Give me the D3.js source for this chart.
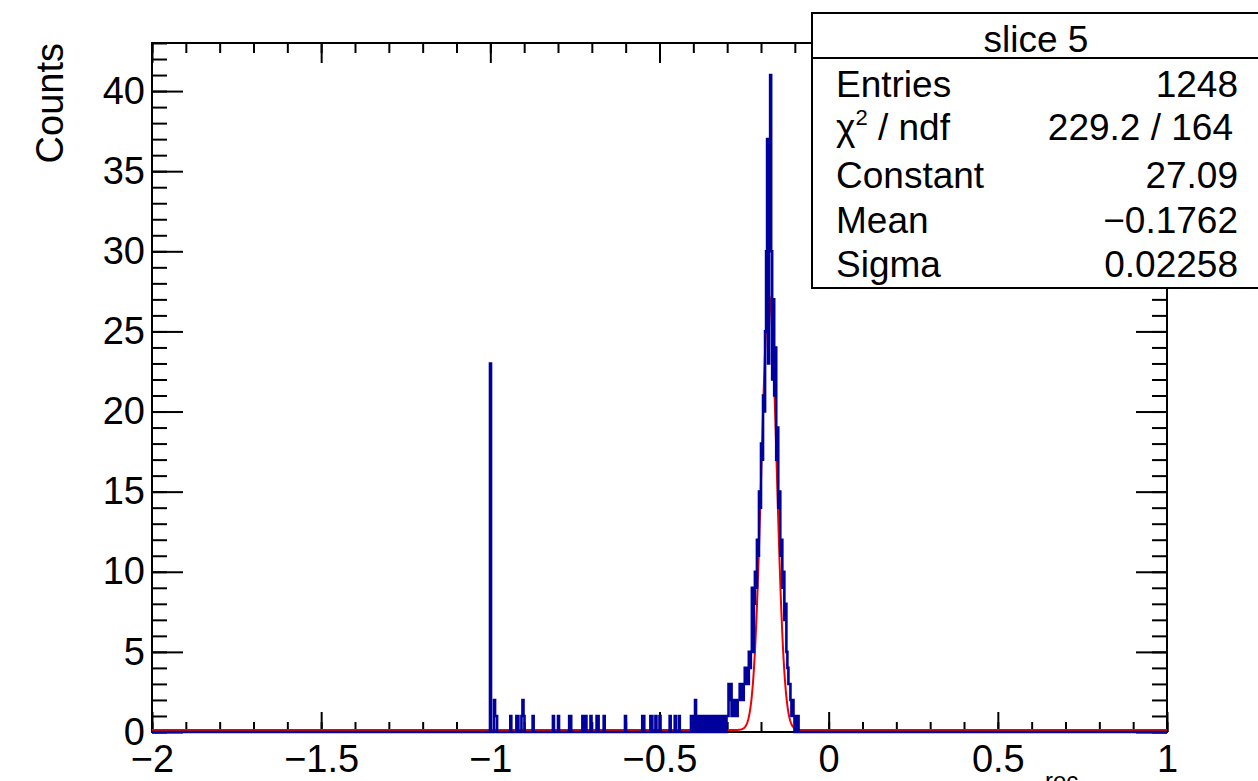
<!DOCTYPE html>
<html><head><meta charset="utf-8">
<script src="https://cdn.jsdelivr.net/npm/d3@7"></script>
<style>
body{margin:0;background:#fff;}
svg{display:block;}
text{font-family:"Liberation Sans",Arial,Helvetica,sans-serif;fill:#000;}
</style>
</head><body>
<svg id="c" width="1258" height="781"></svg>
<script>
// ---------- data ----------
const xMin = -2, xMax = 1, nBins = 1000;
const yMax = 43;
const xMajorTicks = [-2, -1.5, -1, -0.5, 0, 0.5, 1];
const xTickLabels = ["\u22122", "\u22121.5", "\u22121", "\u22120.5", "0", "0.5", "1"];
const yMajorTicks = [0, 5, 10, 15, 20, 25, 30, 35, 40];
const yTickLabels = ["0", "5", "10", "15", "20", "25", "30", "35", "40"];
const yTitle = "Counts";

// isolated bins in the low tail (bin centres and counts)
const tailCenters = [-0.9995, -0.9875, -0.9845, -0.9815, -0.9395, -0.9215, -0.9185, -0.9065, -0.9035, -0.9005,
  -0.8735, -0.8135, -0.7985, -0.7655, -0.7625, -0.7265, -0.7175, -0.7025, -0.6845, -0.6815, -0.6635,
  -0.6005, -0.5495, -0.5465, -0.5255, -0.5225, -0.5105, -0.4985, -0.4685, -0.4535, -0.4415,
  -0.4055, -0.4025, -0.3935];
const tailCounts = [23, 2, 1, 1, 1, 1, 1, 1, 2, 1,
  1, 1, 1, 1, 1, 1, 1, 1, 1, 1, 1,
  1, 1, 1, 1, 1, 1, 1, 1, 1, 1,
  1, 1, 2];

// contiguous bins from coreLowEdge onward
const coreLowEdge = -0.389;
const coreCounts = [
  1,0,1,0,1,1,0,1,0,1,0,1,1,0,1,0,1,0,1,0,1,1,0,1,0,1,0,1,0,1,1,
  3,2,3,1,2,2,1,2,1,2,2,3,2,3,2,3,4,
  3,4,3,5,4,5,9,5,8,10,9,12,11,15,14,18,17,21,20,25,30,37,23,37,41,
  30,22,27,21,24,17,19,14,15,11,12,9,10,7,8,5,4,3,3,2,1,2,1,0,1,0,1
];

// Gaussian fit parameters (from the stats box)
const fitConstant = 27.09, fitMean = -0.1762, fitSigma = 0.02258;

const statsTitle = "slice 5";
const statsNames = ["Entries", "chi2", "Constant", "Mean", "Sigma"];
const statsValues = ["1248", "229.2 / 164", "27.09", "\u22120.1762", "0.02258"];
const xTitleFragment = "rec";

// ---------- build ----------
const svg = d3.select("#c");
const frame = {left: 152, right: 1167, top: 43, bottom: 732};
const x = d3.scaleLinear().domain([xMin, xMax]).range([frame.left, frame.right]);
const y = d3.scaleLinear().domain([0, yMax]).range([frame.bottom, frame.top]);

const binW = (xMax - xMin) / nBins;
const counts = new Array(nBins).fill(0);
tailCenters.forEach((c, k) => { counts[Math.floor((c - xMin) / binW)] = tailCounts[k]; });
const coreStart = Math.round((coreLowEdge - xMin) / binW);
coreCounts.forEach((c, k) => { counts[coreStart + k] = c; });

const histPts = [];
counts.forEach((c, i) => {
  const x0 = xMin + i * binW;
  histPts.push([x0, c], [x0 + binW, c]);
});
const fitPts = d3.range(xMin, xMax + 1e-9, 0.001).map(v => [v, fitConstant * Math.exp(-0.5 * Math.pow((v - fitMean) / fitSigma, 2))]);

const line = d3.line().x(d => x(d[0])).y(d => y(d[1]));

// frame
svg.append("rect").attr("x", frame.left).attr("y", frame.top)
  .attr("width", frame.right - frame.left).attr("height", frame.bottom - frame.top)
  .attr("fill", "none").attr("stroke", "#000").attr("stroke-width", 2);

// axes helpers
function styleAxis(g) {
  g.select(".domain").remove();
  g.selectAll("line").attr("stroke", "#000").attr("stroke-width", 2);
  g.attr("font-family", null).attr("font-size", null);
  g.selectAll("text").style("font-size", "38px").attr("fill", "#000");
}
const xMinor = d3.range(-20, 11).map(v => v / 10);
const yMinor = d3.range(0, yMax + 1);

svg.append("g").attr("transform", `translate(0,${frame.bottom})`)
  .call(d3.axisBottom(x).tickValues(xMinor).tickSizeInner(-10).tickSizeOuter(0).tickFormat(""))
  .call(styleAxis);
svg.append("g").attr("transform", `translate(0,${frame.bottom})`)
  .call(d3.axisBottom(x).tickValues(xMajorTicks).tickSizeInner(-20).tickSizeOuter(0).tickPadding(13)
    .tickFormat((d, i) => xTickLabels[i]))
  .call(styleAxis);
svg.append("g").attr("transform", `translate(0,${frame.top})`)
  .call(d3.axisTop(x).tickValues(xMinor).tickSizeInner(-10).tickSizeOuter(0).tickFormat(""))
  .call(styleAxis);
svg.append("g").attr("transform", `translate(0,${frame.top})`)
  .call(d3.axisTop(x).tickValues(xMajorTicks).tickSizeInner(-20).tickSizeOuter(0).tickFormat(""))
  .call(styleAxis);

svg.append("g").attr("transform", `translate(${frame.left},0)`)
  .call(d3.axisLeft(y).tickValues(yMinor).tickSizeInner(-15).tickSizeOuter(0).tickFormat(""))
  .call(styleAxis);
svg.append("g").attr("transform", `translate(${frame.left},0)`)
  .call(d3.axisLeft(y).tickValues(yMajorTicks).tickSizeInner(-31).tickSizeOuter(0).tickPadding(7)
    .tickFormat((d, i) => yTickLabels[i]))
  .call(styleAxis);
svg.append("g").attr("transform", `translate(${frame.right},0)`)
  .call(d3.axisRight(y).tickValues(yMinor).tickSizeInner(-15).tickSizeOuter(0).tickFormat(""))
  .call(styleAxis);
svg.append("g").attr("transform", `translate(${frame.right},0)`)
  .call(d3.axisRight(y).tickValues(yMajorTicks).tickSizeInner(-31).tickSizeOuter(0).tickFormat(""))
  .call(styleAxis);

// fit curve (drawn beneath the histogram)
svg.append("path").datum(fitPts).attr("d", line)
  .attr("transform", "translate(0,-2)")
  .attr("fill", "none").attr("stroke", "#f00000").attr("stroke-width", 2);

// histogram
svg.append("path").datum(histPts).attr("d", line)
  .attr("fill", "none").attr("stroke", "#00009c").attr("stroke-width", 2.6)
  .attr("stroke-linejoin", "miter");

// y title
svg.append("text").attr("transform", `translate(63,${frame.top}) rotate(-90)`)
  .attr("text-anchor", "end").style("font-size", "38px").text(yTitle);

// x title fragment (cut off by the bottom edge, as in the original)
svg.append("text").attr("x", 1045).attr("y", 789).style("font-size", "24px").text(xTitleFragment);

// stats box
const sb = svg.append("g");
sb.append("rect").attr("x", 812).attr("y", 13).attr("width", 460).attr("height", 275)
  .attr("fill", "#fff").attr("stroke", "#000").attr("stroke-width", 2);
sb.append("line").attr("x1", 812).attr("x2", 1260).attr("y1", 58).attr("y2", 58)
  .attr("stroke", "#000").attr("stroke-width", 2);
sb.append("text").attr("x", 1036).attr("y", 52).attr("text-anchor", "middle")
  .style("font-size", "37px").text(statsTitle);
const rowY = [97, 140, 188, 233, 277];
statsNames.forEach((n, i) => {
  const t = sb.append("text").attr("x", 836).attr("y", rowY[i]).style("font-size", "37px");
  if (n === "chi2") {
    t.append("tspan").text("\u03C7");
    t.append("tspan").attr("dy", -15).style("font-size", "22px").text("2");
    t.append("tspan").attr("dy", 15).text(" / ndf");
  } else {
    t.text(n);
  }
  sb.append("text").attr("x", i === 1 ? 1233 : 1238).attr("y", rowY[i]).attr("text-anchor", "end")
    .style("font-size", "37px").text(statsValues[i]);
});
</script>
</body></html>
